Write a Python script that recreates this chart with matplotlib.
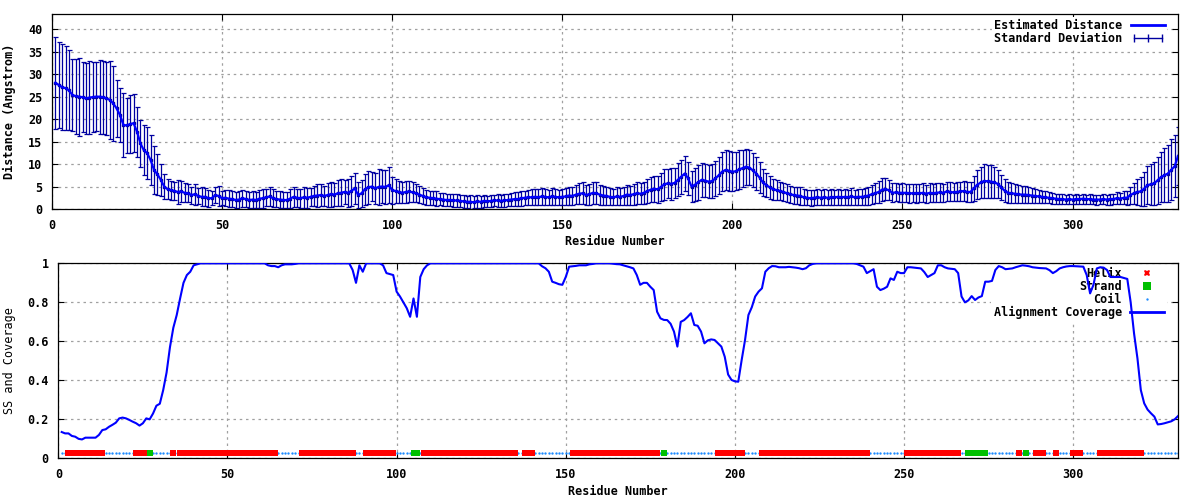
import numpy as np
import matplotlib
matplotlib.use("Agg")
import matplotlib.pyplot as plt
from matplotlib.lines import Line2D
from matplotlib.legend_handler import HandlerLine2D
from matplotlib.ticker import MultipleLocator, FormatStrFormatter

# Estimated distance per residue (Angstrom), residues 1..331
mean = [
    28.1, 27.6, 27.1, 26.9, 26.4, 25.4, 25.1, 25.0, 24.9, 24.6,
    24.8, 24.9, 25.0, 25.0, 24.9, 24.6, 24.3, 23.5, 22.4, 20.9,
    18.7, 18.6, 18.9, 19.1, 17.2, 14.6, 13.1, 12.4, 10.9, 8.7,
    7.7, 6.5, 5.0, 4.4, 4.2, 4.0, 3.8, 3.9, 3.6, 3.5,
    3.1, 3.3, 2.9, 2.7, 2.7, 2.4, 2.4, 3.1, 2.9, 2.4,
    2.5, 2.3, 2.2, 2.0, 2.1, 2.4, 2.2, 2.0, 2.1, 2.0,
    2.3, 2.4, 2.6, 2.8, 2.4, 2.2, 2.1, 2.0, 2.0, 2.3,
    2.7, 2.5, 2.4, 2.6, 2.5, 2.7, 2.9, 3.0, 3.1, 2.9,
    3.1, 3.3, 3.2, 3.5, 3.6, 3.8, 3.6, 4.0, 4.6, 3.1,
    3.5, 4.4, 4.8, 5.0, 4.6, 4.9, 5.0, 4.9, 5.3, 4.2,
    4.0, 3.8, 3.6, 3.8, 3.9, 3.7, 3.5, 3.2, 2.9, 2.6,
    2.5, 2.4, 2.3, 2.2, 2.1, 2.0, 2.0, 1.9, 1.9, 1.8,
    1.7, 1.6, 1.6, 1.5, 1.7, 1.6, 1.8, 1.7, 1.8, 1.9,
    1.9, 1.8, 1.9, 2.0, 2.1, 2.2, 2.2, 2.4, 2.5, 2.6,
    2.6, 2.7, 2.6, 2.8, 2.7, 2.6, 2.8, 2.7, 2.6, 2.7,
    2.8, 3.0, 2.9, 3.2, 3.4, 3.5, 3.1, 3.3, 3.6, 3.5,
    3.2, 3.0, 2.9, 2.7, 2.6, 2.8, 2.7, 2.9, 3.2, 3.1,
    3.3, 3.5, 3.4, 3.6, 4.0, 4.3, 4.5, 4.4, 4.9, 5.5,
    5.7, 5.6, 5.8, 6.5, 7.2, 7.9, 6.8, 5.0, 5.4, 6.0,
    6.5, 6.3, 6.1, 6.2, 6.8, 7.5, 8.3, 8.7, 8.5, 8.3,
    8.4, 8.8, 9.1, 9.4, 9.2, 8.6, 7.9, 7.0, 5.9, 5.3,
    4.8, 4.4, 4.2, 4.0, 3.8, 3.5, 3.3, 3.1, 3.0, 2.9,
    2.6, 2.5, 2.4, 2.5, 2.6, 2.5, 2.6, 2.5, 2.6, 2.6,
    2.7, 2.6, 2.7, 2.6, 2.8, 2.6, 2.7, 2.7, 2.8, 3.0,
    3.3, 3.5, 3.8, 4.3, 4.4, 4.2, 3.6, 3.7, 3.6, 3.6,
    3.6, 3.5, 3.5, 3.5, 3.5, 3.6, 3.4, 3.6, 3.5, 3.6,
    3.7, 3.6, 3.9, 3.8, 3.7, 3.8, 3.9, 4.0, 3.8, 3.8,
    4.6, 5.4, 5.9, 6.2, 6.2, 6.1, 5.9, 5.6, 4.8, 4.1,
    3.6, 3.5, 3.4, 3.3, 3.2, 3.2, 3.1, 3.0, 2.9, 2.8,
    2.7, 2.6, 2.5, 2.4, 2.3, 2.2, 2.2, 2.1, 2.2, 2.1,
    2.2, 2.2, 2.3, 2.2, 2.2, 2.1, 2.1, 2.1, 2.2, 2.1,
    2.2, 2.2, 2.4, 2.3, 2.5, 2.5, 3.1, 3.5, 3.8, 3.9,
    4.5, 5.3, 5.5, 5.7, 6.4, 7.1, 7.5, 7.9, 8.7, 9.5, 11.8,
]

# Standard deviation per residue
std = [
    10.2, 9.6, 9.6, 9.4, 8.9, 8.0, 8.3, 8.7, 7.8, 7.9,
    8.1, 7.8, 7.7, 8.2, 8.1, 8.1, 8.7, 8.3, 6.4, 6.0,
    7.2, 6.2, 6.4, 6.5, 5.6, 5.3, 5.6, 5.8, 5.6, 5.3,
    4.5, 3.6, 2.7, 2.2, 2.1, 2.0, 2.6, 2.4, 2.1, 2.0,
    1.9, 2.3, 1.8, 2.1, 2.0, 1.9, 1.5, 1.8, 2.2, 1.6,
    1.8, 1.9, 1.7, 1.8, 2.0, 1.9, 1.7, 1.8, 1.9, 1.8,
    2.0, 2.1, 1.9, 2.2, 2.0, 1.8, 1.9, 1.7, 1.8, 2.1,
    2.3, 2.0, 2.1, 2.4, 2.2, 2.0, 2.3, 2.5, 2.4, 2.3,
    2.6, 2.8, 2.5, 2.9, 3.0, 2.7, 3.1, 3.3, 3.5, 2.8,
    3.0, 3.4, 3.6, 3.2, 3.5, 3.9, 3.7, 3.8, 4.0, 3.0,
    2.6, 2.4, 2.3, 2.5, 2.4, 2.2, 2.0, 1.9, 1.8, 1.7,
    1.6, 1.5, 1.6, 1.4, 1.5, 1.4, 1.3, 1.5, 1.4, 1.3,
    1.4, 1.3, 1.5, 1.3, 1.4, 1.3, 1.4, 1.3, 1.4, 1.3,
    1.4, 1.3, 1.5, 1.4, 1.5, 1.6, 1.5, 1.7, 1.6, 1.7,
    1.8, 1.7, 1.8, 1.9, 1.8, 1.7, 1.9, 1.8, 1.7, 1.8,
    1.9, 2.0, 1.9, 2.1, 2.3, 2.4, 2.2, 2.3, 2.5, 2.4,
    2.2, 2.1, 2.0, 1.9, 1.8, 2.0, 1.9, 2.1, 2.2, 2.1,
    2.3, 2.4, 2.3, 2.5, 2.7, 2.8, 2.9, 3.0, 3.2, 3.4,
    3.3, 3.5, 3.4, 3.7, 3.8, 4.0, 3.6, 3.5, 3.7, 3.9,
    3.8, 3.7, 3.6, 3.8, 3.9, 4.1, 4.3, 4.5, 4.4, 4.3,
    4.2, 4.3, 4.1, 4.0, 3.9, 3.8, 3.6, 3.4, 3.0, 2.7,
    2.5, 2.3, 2.2, 2.1, 2.0, 2.0, 1.9, 1.9, 1.8, 1.9,
    1.8, 1.7, 1.8, 1.7, 1.8, 1.7, 1.8, 1.7, 1.8, 1.7,
    1.8, 1.7, 1.8, 1.7, 1.8, 1.7, 1.8, 1.8, 1.9, 2.0,
    2.1, 2.2, 2.4, 2.5, 2.4, 2.3, 2.1, 2.0, 2.0, 2.1,
    2.0, 2.1, 2.0, 2.1, 2.0, 2.1, 2.0, 2.1, 2.0, 2.1,
    2.1, 2.0, 2.2, 2.1, 2.0, 2.1, 2.2, 2.3, 2.2, 2.2,
    2.8, 3.2, 3.5, 3.8, 3.7, 3.6, 3.4, 3.1, 2.8, 2.5,
    2.3, 2.2, 2.1, 2.0, 1.9, 1.9, 1.8, 1.7, 1.6, 1.5,
    1.4, 1.3, 1.2, 1.2, 1.1, 1.1, 1.1, 1.0, 1.1, 1.0,
    1.1, 1.0, 1.1, 1.0, 1.1, 1.0, 1.1, 1.0, 1.1, 1.1,
    1.2, 1.1, 1.3, 1.2, 1.4, 1.5, 1.9, 2.3, 2.8, 3.3,
    3.8, 4.2, 4.5, 4.8, 5.2, 5.6, 6.0, 6.4, 6.8, 6.9, 6.5,
]

# Alignment coverage per residue
coverage = [
    0.135, 0.128, 0.128, 0.115, 0.111, 0.100, 0.097, 0.106, 0.106, 0.106,
    0.106, 0.120, 0.145, 0.149, 0.162, 0.172, 0.183, 0.205, 0.209, 0.205,
    0.197, 0.188, 0.180, 0.168, 0.180, 0.205, 0.200, 0.230, 0.270, 0.280,
    0.350, 0.440, 0.570, 0.670, 0.735, 0.820, 0.900, 0.940, 0.957, 0.990,
    0.995, 1.0, 1.0, 1.0, 1.0, 1.0, 1.0, 1.0, 1.0, 1.0,
    1.0, 1.0, 1.0, 1.0, 1.0, 1.0, 1.0, 1.0, 1.0, 1.0,
    1.0, 0.99, 0.986, 0.986, 0.98, 0.99, 0.995, 0.995, 0.995, 0.997,
    1.0, 1.0, 1.0, 1.0, 1.0, 1.0, 1.0, 1.0, 1.0, 1.0,
    1.0, 1.0, 1.0, 1.0, 1.0, 1.0, 0.966, 0.90, 0.99, 0.957,
    1.0, 1.0, 1.0, 1.0, 1.0, 0.99, 0.95, 0.945, 0.94, 0.855,
    0.83, 0.80, 0.77, 0.726, 0.82, 0.726, 0.93, 0.97, 0.99, 1.0,
    1.0, 1.0, 1.0, 1.0, 1.0, 1.0, 1.0, 1.0, 1.0, 1.0,
    1.0, 1.0, 1.0, 1.0, 1.0, 1.0, 1.0, 1.0, 1.0, 1.0,
    1.0, 1.0, 1.0, 1.0, 1.0, 1.0, 1.0, 1.0, 1.0, 1.0,
    1.0, 1.0, 0.985, 0.975, 0.957, 0.906, 0.90, 0.893, 0.89, 0.93,
    0.983, 0.985, 0.987, 0.99, 0.99, 0.99, 0.995, 0.997, 1.0, 1.0,
    1.0, 1.0, 1.0, 0.998, 0.996, 0.995, 0.99, 0.985, 0.98, 0.974,
    0.94, 0.89, 0.90, 0.90, 0.88, 0.863, 0.752, 0.718, 0.71, 0.709,
    0.69, 0.65, 0.573, 0.70, 0.709, 0.725, 0.744, 0.684, 0.68, 0.65,
    0.59, 0.605, 0.61, 0.607, 0.59, 0.573, 0.521, 0.43, 0.402, 0.395,
    0.393, 0.504, 0.607, 0.735, 0.775, 0.83, 0.855, 0.872, 0.957, 0.975,
    0.986, 0.985, 0.98, 0.98, 0.98, 0.982, 0.98, 0.978, 0.975, 0.97,
    0.975, 0.99, 0.997, 1.0, 1.0, 1.0, 1.0, 1.0, 1.0, 1.0,
    1.0, 1.0, 1.0, 1.0, 1.0, 0.997, 0.99, 0.983, 0.95, 0.96,
    0.97, 0.88, 0.863, 0.87, 0.88, 0.923, 0.915, 0.957, 0.95, 0.95,
    0.98, 0.98, 0.978, 0.976, 0.974, 0.955, 0.93, 0.94, 0.95, 0.99,
    0.99, 0.98, 0.974, 0.972, 0.97, 0.95, 0.83, 0.80, 0.81, 0.832,
    0.812, 0.825, 0.832, 0.906, 0.906, 0.91, 0.966, 0.986, 0.98, 0.97,
    0.972, 0.974, 0.98, 0.985, 0.99, 0.988, 0.985, 0.98, 0.978, 0.976,
    0.975, 0.974, 0.965, 0.95, 0.96, 0.974, 0.98, 0.984, 0.986, 0.986,
    0.985, 0.984, 0.983, 0.94, 0.846, 0.89, 0.974, 0.98, 0.978, 0.966,
    0.93, 0.93, 0.93, 0.93, 0.925, 0.92, 0.80, 0.64, 0.513, 0.35,
    0.282, 0.25, 0.231, 0.214, 0.174, 0.176, 0.18, 0.185, 0.19, 0.2, 0.217,
]

# secondary structure segments (first, last residue)
helix_segments = [(3, 13), (23, 26), (34, 34), (36, 64), (72, 87), (91, 99),
                  (108, 135), (138, 140), (152, 177), (195, 202), (208, 239),
                  (251, 266), (284, 284), (289, 291), (295, 295), (300, 302),
                  (308, 320)]
strand_segments = [(27, 27), (105, 106), (179, 179), (269, 274), (286, 286)]
ss_level = 0.03

residues = np.arange(1, len(mean) + 1)
helix = [r for a, b in helix_segments for r in range(a, b + 1)]
strand = [r for a, b in strand_segments for r in range(a, b + 1)]
coil = [r for r in residues if r not in helix and r not in strand]

plt.rcParams['font.family'] = ['DejaVu Sans Mono']
plt.rcParams['font.size'] = 8.5
plt.rcParams['font.weight'] = 'bold'

fig = plt.figure(figsize=(12, 5), dpi=100)
ax1 = fig.add_axes([0.0433, 0.582, 0.9384, 0.390])
ax2 = fig.add_axes([0.0486, 0.0833, 0.9331, 0.390])

grid_style = dict(color='#a0a0a0', linestyle=(0, (2, 3)), linewidth=0.9)

def style_axes(ax):
    ax.set_axisbelow(True)
    ax.grid(True, **grid_style)
    ax.tick_params(direction='in', top=True, right=True, length=4,
                   width=0.8, pad=7, labelsize=8.5)
    for s in ax.spines.values():
        s.set_linewidth(0.9)
    for lab in ax.get_xticklabels() + ax.get_yticklabels():
        lab.set_fontweight('bold')

legend_opts = dict(loc='upper right', markerfirst=False, frameon=True,
                   facecolor='white', edgecolor='none', framealpha=1,
                   fancybox=False, handlelength=2.9, handletextpad=0.7,
                   labelspacing=0.0, borderpad=0.2, borderaxespad=0.0)

# ---- top panel: distance with error bars ----
ax1.errorbar(residues, mean, yerr=std, fmt='s', color='#0000a0', ms=2.0,
             elinewidth=0.9, capsize=1.8, capthick=0.9, zorder=2)
ax1.plot(residues, mean, color='#0000ff', lw=1.6, zorder=3)
ax1.set_xlim(0, 331)
ax1.set_ylim(0, 43.4)
ax1.xaxis.set_major_locator(MultipleLocator(50))
ax1.yaxis.set_major_locator(MultipleLocator(5))
style_axes(ax1)
ax1.set_xlabel('Residue Number', fontweight='bold')
ax1.set_ylabel('Distance (Angstrom)', fontweight='bold')
ax1.xaxis.set_label_coords(0.5, -0.135)
ax1.yaxis.set_label_coords(-0.032, 0.5)

h_mean = Line2D([], [], color='#0000ff', lw=2)
h_std = Line2D([], [], color='#0000a0', lw=1, marker='|', ms=6, mew=1)
leg1 = ax1.legend([h_mean, h_std], ['Estimated Distance', 'Standard Deviation'],
                  bbox_to_anchor=(0.9906, 0.987),
                  handler_map={h_std: HandlerLine2D(numpoints=3)},
                  **legend_opts)
leg1.set_zorder(1.5)

# ---- bottom panel: secondary structure and coverage ----
ax2.plot(coil, [ss_level] * len(coil), linestyle='none', marker='o',
         ms=1.7, color='#1e8cff', mew=0, zorder=2)
ax2.plot(helix, [ss_level] * len(helix), linestyle='none', marker='s',
         ms=4.6, color='#ff0000', mew=0, zorder=3)
ax2.plot(strand, [ss_level] * len(strand), linestyle='none', marker='s',
         ms=5.0, color='#00c000', mew=0, zorder=4)
ax2.plot(residues, coverage, color='#0000ff', lw=1.5, zorder=5)
ax2.set_xlim(0, 331)
ax2.set_ylim(0, 1)
ax2.xaxis.set_major_locator(MultipleLocator(50))
ax2.yaxis.set_major_locator(MultipleLocator(0.2))
ax2.yaxis.set_major_formatter(FormatStrFormatter('%g'))
style_axes(ax2)
ax2.set_xlabel('Residue Number', fontweight='bold')
ax2.set_ylabel('SS and Coverage', fontweight='normal')
ax2.xaxis.set_label_coords(0.5, -0.135)
ax2.yaxis.set_label_coords(-0.038, 0.5)

h_helix = Line2D([], [], linestyle='none', marker='X', ms=5, color='#ff0000', mew=0)
h_strand = Line2D([], [], linestyle='none', marker='s', ms=5.5, color='#00c000', mew=0)
h_coil = Line2D([], [], linestyle='none', marker='o', ms=1.7, color='#1e8cff', mew=0)
h_cov = Line2D([], [], color='#0000ff', lw=2)
leg2 = ax2.legend([h_helix, h_strand, h_coil, h_cov],
                  ['Helix', 'Strand', 'Coil', 'Alignment Coverage'],
                  bbox_to_anchor=(0.990, 0.993), numpoints=1, **legend_opts)
leg2.set_zorder(1.5)

fig.savefig('out.png', dpi=100)
